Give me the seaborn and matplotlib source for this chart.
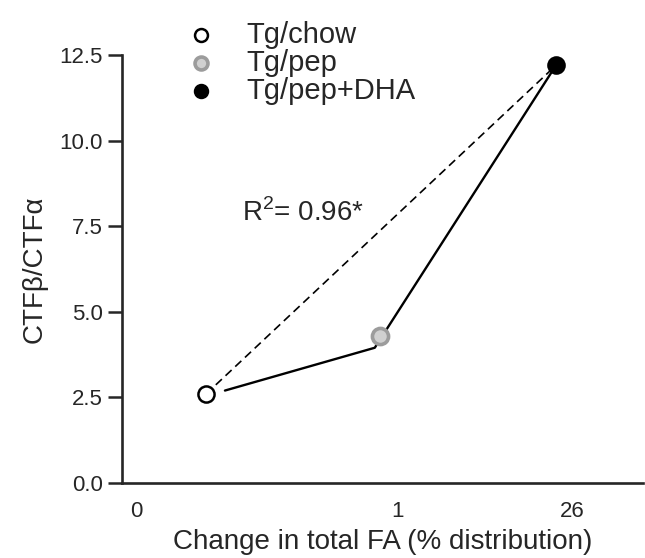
import numpy as np
import pandas as pd
import seaborn as sns
import matplotlib.pyplot as plt

# group values (x in axis units: tick "0" at 0, tick "1" at 1)
groups = ["Tg/chow", "Tg/pep", "Tg/pep+DHA"]
x_vals = [0.268, 0.931, 1.604]
y_vals = [2.6, 4.3, 12.2]

# solid connecting line (drawn as in the original figure)
line_x = [0.34, 0.912, 1.604]
line_y = [2.7, 3.95, 12.2]

# x tick labels and their positions
xtick_pos = [0.0, 1.0, 1.667]
xtick_labels = ["0", "1", "26"]
yticks = [0.0, 2.5, 5.0, 7.5, 10.0, 12.5]

r2_text = "R$^2$= 0.96*"

sns.set_style("ticks")
plt.rcParams["font.family"] = ["Liberation Sans", "DejaVu Sans"]
plt.rcParams["mathtext.fontset"] = "custom"
plt.rcParams["mathtext.rm"] = "Liberation Sans"

fig = plt.figure(figsize=(6.45, 5.58), dpi=100)
ax = fig.add_axes([122 / 645, 1 - 483 / 558, (643 - 122) / 645, (483 - 55) / 558])

df = pd.DataFrame({"group": groups, "x": x_vals, "y": y_vals})
line_df = pd.DataFrame({"x": line_x, "y": line_y})

# dashed regression line between the first and last group
sns.lineplot(data=df.iloc[[0, 2]], x="x", y="y", ax=ax, color="black",
             linewidth=1.2, linestyle=(0, (5, 3)), sort=False, zorder=1)
# solid line
sns.lineplot(data=line_df, x="x", y="y", ax=ax, color="black",
             linewidth=1.7, sort=False, zorder=2)

styles = {
    "Tg/chow": dict(color="white", edgecolor="black", linewidth=1.8),
    "Tg/pep": dict(color="#d0d0d0", edgecolor="#9c9c9c", linewidth=2.6),
    "Tg/pep+DHA": dict(color="black", edgecolor="black", linewidth=1.8),
}
for g in groups:
    sns.scatterplot(data=df[df["group"] == g], x="x", y="y", ax=ax, s=135,
                    label=g, zorder=3, clip_on=False, **styles[g])

ax.text(0.405, 7.9, r2_text, fontsize=20, ha="left", va="center")

ax.set_xlim(-0.053, 1.936)
ax.set_ylim(0, 12.5)
ax.set_xticks(xtick_pos)
ax.set_xticklabels(xtick_labels)
ax.set_yticks(yticks)
ax.set_yticklabels([f"{v:.1f}" for v in yticks])
ax.tick_params(axis="x", length=0, pad=13, labelsize=16)
ax.tick_params(axis="y", length=10, width=1.8, pad=4, labelsize=16)
ax.set_xlabel("Change in total FA (% distribution)", fontsize=20, labelpad=5)
ax.set_ylabel("CTF\u03b2/CTF\u03b1", fontsize=20, labelpad=8)
for s in ["left", "bottom"]:
    ax.spines[s].set_linewidth(1.9)
sns.despine(ax=ax)

ax.legend(loc="upper left", bbox_to_anchor=(172 / 645, 1 - 6 / 558),
          bbox_transform=fig.transFigure, frameon=False, fontsize=21,
          markerscale=0.8, handlelength=1.0, handletextpad=1.05,
          borderpad=0, labelspacing=0.0)

fig.savefig("out.png", dpi=100)
